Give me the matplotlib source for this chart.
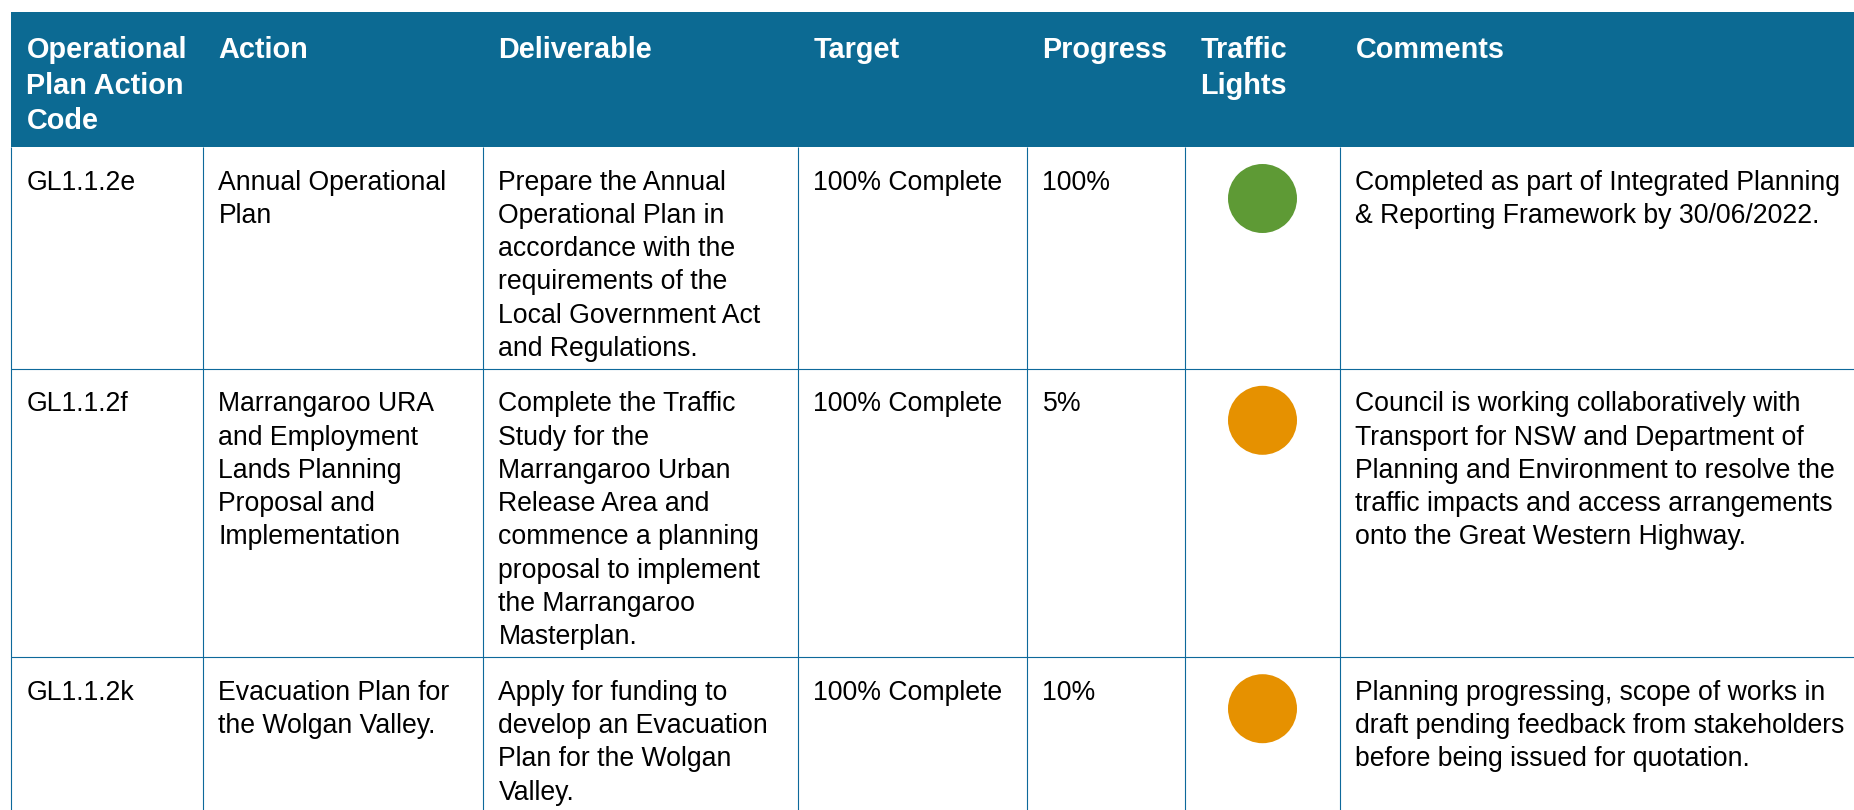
import matplotlib
matplotlib.use("Agg")
import matplotlib.pyplot as plt
from matplotlib.patches import Rectangle, Circle

# ---------------- data ----------------
headers = ["Operational\nPlan Action\nCode", "Action", "Deliverable", "Target",
           "Progress", "Traffic\nLights", "Comments"]
codes = ["GL1.1.2e", "GL1.1.2f", "GL1.1.2k"]
actions = ["Annual Operational\nPlan",
           "Marrangaroo URA\nand Employment\nLands Planning\nProposal and\nImplementation",
           "Evacuation Plan for\nthe Wolgan Valley."]
deliverables = ["Prepare the Annual\nOperational Plan in\naccordance with the\nrequirements of the\nLocal Government Act\nand Regulations.",
                "Complete the Traffic\nStudy for the\nMarrangaroo Urban\nRelease Area and\ncommence a planning\nproposal to implement\nthe Marrangaroo\nMasterplan.",
                "Apply for funding to\ndevelop an Evacuation\nPlan for the Wolgan\nValley."]
targets = ["100% Complete", "100% Complete", "100% Complete"]
progress = ["100%", "5%", "10%"]
lights = ["green", "amber", "amber"]
comments = ["Completed as part of Integrated Planning\n& Reporting Framework by 30/06/2022.",
            "Council is working collaboratively with\nTransport for NSW and Department of\nPlanning and Environment to resolve the\ntraffic impacts and access arrangements\nonto the Great Western Highway.",
            "Planning progressing, scope of works in\ndraft pending feedback from stakeholders\nbefore being issued for quotation."]

# ---------------- style / layout ----------------
W, H = 1854, 810
HEADER_BG = "#0c6a93"
GRID = "#0e699b"
LIGHT_COLORS = {"green": "#5e9a35", "amber": "#e69100"}
FONT = ["Liberation Sans", "DejaVu Sans"]
BODY_PT = 19.2
HEAD_PT = 20.8

col_edges = [11, 203, 483, 798, 1027, 1185, 1340, 1900]
table_top = 12
header_h = 135
body_line = 33.3
head_line = 35.5
row_pad = 22
text_dx = 15.5

fig = plt.figure(figsize=(W / 100, H / 100), dpi=100)
ax = fig.add_axes([0, 0, 1, 1])
ax.set_xlim(0, W)
ax.set_ylim(H, 0)
ax.axis("off")

# header
header_bottom = table_top + header_h
ax.add_patch(Rectangle((col_edges[0], table_top), col_edges[-1] - col_edges[0], header_h,
                       facecolor=HEADER_BG, edgecolor="none", zorder=1))
for j, h in enumerate(headers):
    for k, line in enumerate(h.split("\n")):
        ax.text(col_edges[j] + text_dx, table_top + 46 + k * head_line, line,
                color="white", fontsize=HEAD_PT, fontweight="bold", family=FONT,
                va="baseline", ha="left", zorder=3)

# body rows
rows = list(zip(codes, actions, deliverables, targets, progress, lights, comments))
y = header_bottom
row_edges = [y]
for r in rows:
    texts = [r[0], r[1], r[2], r[3], r[4], None, r[6]]
    nlines = max(len(t.split("\n")) for t in texts if t is not None)
    for j, t in enumerate(texts):
        if t is None:
            continue
        for k, line in enumerate(t.split("\n")):
            ax.text(col_edges[j] + text_dx, y + 42.5 + k * body_line, line,
                    color="black", fontsize=BODY_PT, family=FONT,
                    va="baseline", ha="left", zorder=3)
    cx = (col_edges[5] + col_edges[6]) / 2
    ax.add_patch(Circle((cx, y + 51.5), 34.5, facecolor=LIGHT_COLORS[r[5]],
                        edgecolor="none", zorder=3))
    y = y + nlines * body_line + row_pad
    row_edges.append(y)

# grid lines
for x in col_edges[:-1]:
    ax.plot([x, x], [header_bottom, H + 20], color=GRID, lw=0.8, zorder=2,
            solid_capstyle="butt")
for yy in row_edges[1:]:
    ax.plot([col_edges[0], col_edges[-1]], [yy, yy], color=GRID, lw=0.8, zorder=2,
            solid_capstyle="butt")

fig.savefig("out.png", dpi=100, facecolor="white")
